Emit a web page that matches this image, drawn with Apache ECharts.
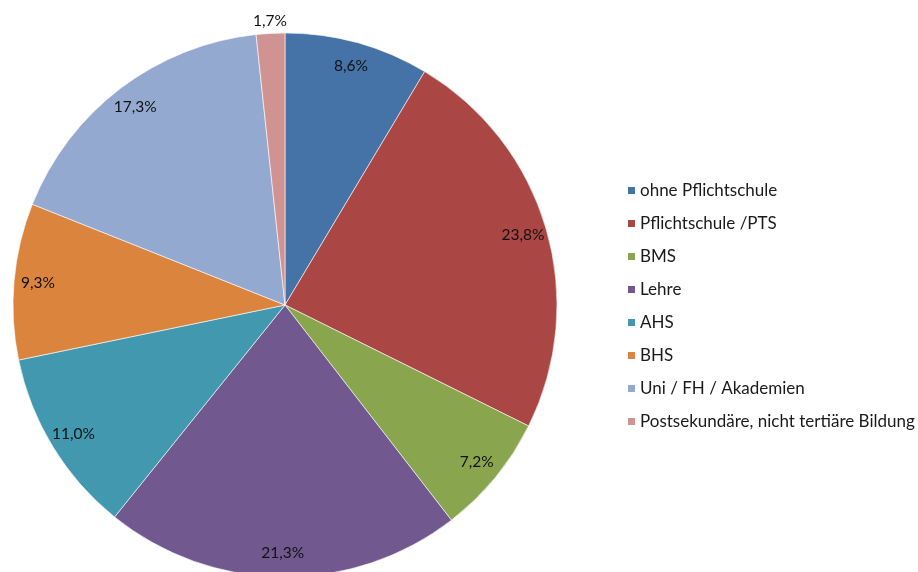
<!DOCTYPE html>
<html>
<head>
<meta charset="utf-8">
<script src="https://cdn.jsdelivr.net/npm/echarts@6/dist/echarts.min.js"></script>
<style>
html,body{margin:0;padding:0;background:#fff;}
#c{width:918px;height:572px;}
</style>
</head>
<body>
<div id="c"></div>
<script>
const categories = ["ohne Pflichtschule","Pflichtschule /PTS","BMS","Lehre","AHS","BHS","Uni / FH / Akademien","Postsekundäre, nicht tertiäre Bildung"];
const values = [8.6, 23.8, 7.2, 21.3, 11.0, 9.3, 17.3, 1.7];
const colors = ["#4572A7","#AA4643","#89A54E","#71588F","#4198AF","#DB843D","#93A9CF","#D19392"];
const outsideLabelIndex = 7;

const fmt = v => v.toFixed(1).replace('.', ',') + '%';
const fontFamily = 'Lato, "Open Sans", sans-serif';
const center = [285, 305];

const chart = echarts.init(document.getElementById('c'), null, {renderer:'canvas'});
chart.setOption({
  animation: false,
  color: colors,
  legend: {
    orient: 'vertical',
    left: 626,
    top: 182,
    padding: 0,
    itemWidth: 9,
    itemHeight: 9,
    itemGap: 16,
    icon: 'rect',
    textStyle: {fontFamily, fontSize: 17, color: '#1a1a1a', padding: [0,0,0,-1]},
    data: categories
  },
  series: [
    {
      type: 'pie',
      center, radius: [0, 272],
      startAngle: 90, clockwise: true,
      label: {show: false}, labelLine: {show: false},
      itemStyle: {borderColor: '#fff', borderWidth: 0.6},
      silent: true,
      data: categories.map((n, i) => ({name: n, value: values[i]}))
    },
    {
      type: 'pie',
      center, radius: [222, 268],
      startAngle: 90, clockwise: true,
      silent: true, legendHoverLink: false,
      itemStyle: {color: 'rgba(0,0,0,0)'},
      labelLine: {show: false},
      label: {show: true, position: 'inside', fontFamily, fontSize: 15.5, color: '#111',
              formatter: p => fmt(p.value)},
      data: categories.map((n, i) => ({name: n, value: values[i],
        label: {show: i !== outsideLabelIndex}}))
    },
    {
      type: 'pie',
      center, radius: [272, 290],
      startAngle: 90, clockwise: true,
      silent: true, legendHoverLink: false,
      itemStyle: {color: 'rgba(0,0,0,0)'},
      labelLine: {show: false},
      label: {show: true, position: 'inside', fontFamily, fontSize: 15.5, color: '#111',
              formatter: p => fmt(p.value)},
      data: categories.map((n, i) => ({name: n, value: values[i],
        label: {show: i === outsideLabelIndex}}))
    }
  ]
});
</script>
</body>
</html>
